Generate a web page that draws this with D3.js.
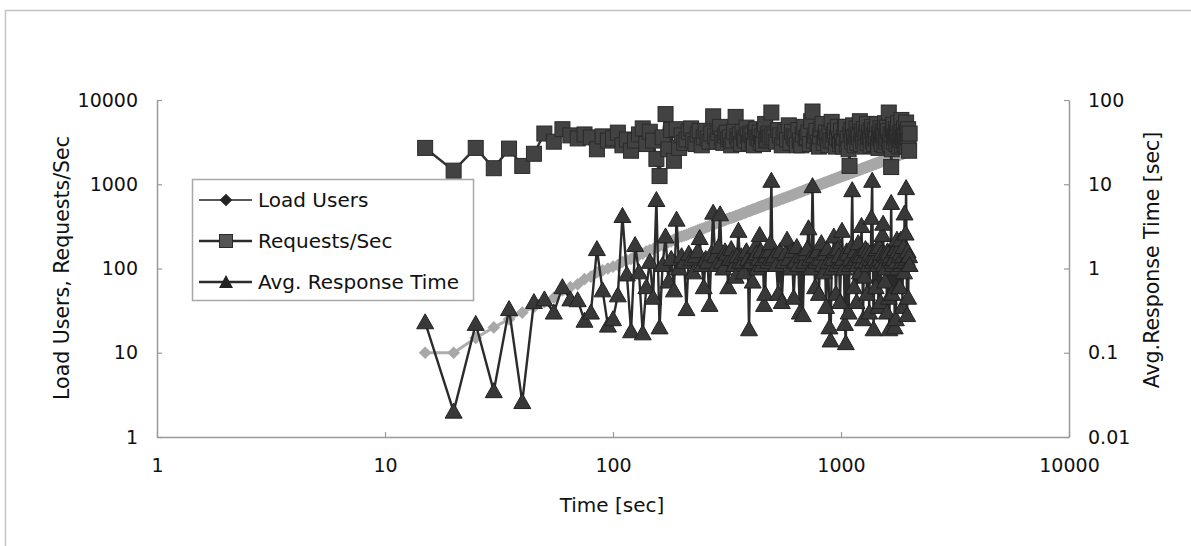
<!DOCTYPE html>
<html><head><meta charset="utf-8">
<script src="https://cdn.jsdelivr.net/npm/d3@7"></script>
<style>
html,body{margin:0;padding:0;background:#fff;}
svg{display:block;font-family:"DejaVu Sans","Liberation Sans",Arial,sans-serif;}
</style></head>
<body>
<svg id="chart" width="1191" height="546"></svg>
<script>
const timeSec = [15,20,25,30,35,40,45,50,55,60,65,70,75,80,85,90,95,100,105,110,115,120,125,130,135,140,145,150,155,160,165,170,175,180,185,190,195,200,
205,210,215,220,225,230,235,240,245,250,255,260,265,270,275,280,285,290,295,300,
305,310,315,320,325,330,335,340,345,350,355,360,365,370,375,380,385,390,395,400,
405,410,415,420,425,430,435,440,445,450,455,460,465,470,475,480,485,490,495,500,
510,520,530,540,550,560,570,580,590,600,610,620,630,640,650,660,670,680,690,700,
710,720,730,740,750,760,770,780,790,800,810,820,830,840,850,860,870,880,890,900,
910,920,930,940,950,960,970,980,990,1000,1010,1020,1030,1040,1050,1060,1070,1080,1090,1100,
1110,1120,1130,1140,1150,1160,1170,1180,1190,1200,1210,1220,1230,1240,1250,1260,1270,1280,1290,1300,
1310,1320,1330,1340,1350,1360,1370,1380,1390,1400,1410,1420,1430,1440,1450,1460,1470,1480,1490,1500,
1510,1520,1530,1540,1550,1560,1570,1580,1590,1600,1610,1620,1630,1640,1650,1660,1670,1680,1690,1700,
1710,1720,1730,1740,1750,1760,1770,1780,1790,1800,1810,1820,1830,1840,1850,1860,1870,1880,1890,1900,
1910,1920,1930,1940,1950,1960,1970,1980,1990,2000];

const loadUsers = [10,10,15,20,25,30,35,40,45,55,60,65,75,80,90,95,100,105,110,120,125,130,140,145,150,160,165,170,180,185,190,200,205,210,220,225,235,240,
245,250,258,265,270,275,283,290,295,300,308,315,320,325,333,340,345,350,358,365,
370,375,383,390,395,400,405,410,418,425,430,435,443,450,455,460,468,475,480,485,
493,500,505,510,518,525,530,535,543,550,555,560,568,575,580,585,593,600,605,610,
620,630,645,655,670,680,695,705,720,730,745,755,770,780,795,805,820,830,845,855,
870,880,895,905,920,930,945,955,970,980,995,1005,1020,1030,1045,1055,1070,1080,1095,1105,
1120,1130,1145,1155,1170,1180,1195,1205,1220,1230,1245,1255,1270,1280,1295,1305,1320,1330,1345,1355,
1370,1380,1395,1405,1420,1430,1445,1455,1470,1480,1495,1505,1520,1530,1545,1555,1570,1580,1595,1605,
1620,1630,1645,1655,1670,1680,1695,1705,1720,1730,1745,1755,1770,1780,1795,1805,1820,1830,1845,1855,
1870,1880,1895,1905,1920,1930,1945,1955,1970,1980,1995,2005,2020,2030,2045,2055,2070,2080,2095,2105,
2120,2130,2145,2155,2170,2180,2195,2205,2220,2230,2245,2255,2270,2280,2295,2305,2320,2330,2345,2355,
2370,2380,2395,2405,2420,2430,2445,2455,2470,2480];

const requestsPerSec = [2700,1450,2700,1550,2650,1650,2300,4000,3200,4500,3800,3500,3900,3600,2600,3700,3300,3500,4100,2900,3400,2500,3300,3900,4600,3000,4200,3300,2000,1250,3600,6800,2600,4400,1900,4500,2700,3800,
3100,3400,4200,4600,3300,3000,3900,4300,2900,3600,4300,3500,3200,4000,6400,3700,3200,4100,4800,3500,
3100,3800,4100,3400,3600,2900,3300,4200,6300,3700,3400,3900,3000,4200,3500,3300,4700,3800,3100,4000,
3800,3300,2900,4200,4500,3600,3500,4100,3100,3700,3000,4400,5200,3300,3400,3900,4000,3600,7100,3800,
3600,3200,4400,3800,2900,3600,4200,3400,5000,3100,4200,3700,3500,2900,4400,3300,2900,3900,4800,3500,
3600,4100,3000,5600,7300,3300,3800,4300,3100,2800,3700,4500,5200,3100,3600,4100,3500,2900,4000,3300,
5500,3300,3900,4300,2800,3600,4800,3400,3000,4300,3200,2800,3600,4600,4800,3000,3500,2600,1650,3900,
4400,3200,5000,3600,2900,3700,4600,3100,3900,3600,5600,3000,4200,3900,3300,4500,2800,3600,4100,5200,
3100,3700,4100,3500,2900,4400,4800,3300,3800,3000,4400,3500,3700,5200,3000,2700,3900,3600,4600,3400,
3000,4300,3800,4100,2900,5300,3700,3200,4700,3500,4300,7100,3200,3000,3900,1600,2600,3900,4500,5100,
3200,3700,3600,4500,3000,4100,3700,5300,3200,2800,4000,3400,3700,5800,2900,4200,3600,3300,4600,3000,
3800,3300,5400,2800,4100,3600,4500,3200,2500,4000];

const avgResponse = [0.23,0.02,0.22,0.035,0.33,0.026,0.40,0.43,0.30,0.60,0.43,0.42,0.24,0.30,1.7,0.55,0.21,0.25,0.48,4.2,0.85,0.18,1.9,0.9,0.17,0.6,1.2,0.45,6.5,0.2,1.1,2.4,0.7,1.3,0.55,3.8,1.0,1.4,
1.2,0.33,1.5,1.3,0.9,1.4,1.6,2.3,1.1,0.6,1.3,1.2,0.37,1.5,4.6,1.4,1.1,1.8,4.4,1.2,
1.0,1.6,1.5,0.6,1.3,1.7,1.3,1.1,0.8,1.4,2.8,1.2,1.4,1.2,0.9,1.5,1.6,1.3,0.19,1.2,
1.2,0.7,1.4,1.8,1.5,1.0,1.3,2.5,1.6,1.1,1.3,0.37,0.5,1.4,1.6,1.2,1.6,2.0,11,1.3,
1.4,1.1,0.5,1.6,0.4,1.2,1.5,2.2,1.3,1.0,1.6,0.45,1.2,1.8,1.1,0.3,1.4,0.28,1.2,1.5,
1.7,3.0,1.3,1.0,9.5,1.4,0.6,1.2,1.6,0.5,1.3,2.0,1.1,0.9,1.5,0.35,1.7,1.2,0.2,0.14,
1.0,1.3,2.4,1.6,0.5,1.1,1.7,1.4,0.4,1.2,2.8,1.3,1.0,0.22,0.13,1.6,1.5,0.3,1.1,1.3,
1.8,8.5,1.2,0.6,1.6,1.3,0.4,1.1,2.0,1.4,0.9,1.4,3.2,1.2,0.25,1.4,0.8,1.7,1.2,0.5,
1.6,1.1,0.3,1.5,1.3,4.0,11,1.2,0.19,1.4,1.3,0.6,1.7,1.2,1.1,0.35,1.8,1.3,0.4,1.5,
1.2,2.5,3.4,1.1,1.5,0.7,1.0,1.4,0.3,1.6,1.5,0.45,0.19,1.3,1.4,6.0,1.2,0.5,1.1,1.6,
1.3,0.2,1.7,0.25,1.2,2.2,1.6,1.0,0.6,1.4,0.6,1.5,2.2,1.1,1.2,0.35,1.4,1.8,0.9,4.5,
1.2,2.6,9.0,1.3,0.28,1.6,0.45,1.1,1.4,1.1];

const xTicks = [1,10,100,1000,10000];
const yLeftTicks = [1,10,100,1000,10000];
const yRightTicks = [0.01,0.1,1,10,100];
const seriesNames = ["Load Users","Requests/Sec","Avg. Response Time"];

const svg = d3.select("#chart");

// outer frame
svg.append("path").attr("d","M5.5,546 V10.5 H1191").attr("fill","none").attr("stroke","#c4c4c4").attr("stroke-width",1.5);

const x = d3.scaleLog().domain([1,10000]).range([157,1069]);
const yL = d3.scaleLog().domain([1,10000]).range([437,100]);
const yR = d3.scaleLog().domain([0.01,100]).range([437,100]);

const axisColor = "#9a9a9a";
function styleAxis(g){
  g.selectAll(".domain").attr("stroke",axisColor).attr("stroke-width",1.5);
  g.selectAll(".tick line").attr("stroke",axisColor).attr("stroke-width",1.2);
  g.selectAll(".tick text").attr("fill","#111").style("font-size","19px").style("font-family","'DejaVu Sans','Liberation Sans',Arial,sans-serif");
}

const gx = svg.append("g").attr("transform","translate(0,437)")
  .call(d3.axisBottom(x).tickValues(xTicks).tickFormat(d=>String(d)).tickSizeInner(-5).tickSizeOuter(0).tickPadding(22));
styleAxis(gx);
const gl = svg.append("g").attr("transform","translate(157,0)")
  .call(d3.axisLeft(yL).tickValues(yLeftTicks).tickFormat(d=>String(d)).tickSizeInner(-5).tickSizeOuter(0).tickPadding(19));
styleAxis(gl);
const gr = svg.append("g").attr("transform","translate(1069,0)")
  .call(d3.axisRight(yR).tickValues(yRightTicks).tickFormat(d=>String(d)).tickSizeInner(-5).tickSizeOuter(0).tickPadding(19));
styleAxis(gr);

// axis titles
svg.append("text").attr("x",612).attr("y",512).attr("text-anchor","middle")
  .style("font-size","20px").attr("fill","#111").text("Time [sec]");
svg.append("text").attr("transform","translate(69,268) rotate(-90)").attr("text-anchor","middle")
  .style("font-size","20.5px").attr("fill","#111").text("Load Users, Requests/Sec");
svg.append("text").attr("transform","translate(1159,260) rotate(-90)").attr("text-anchor","middle")
  .style("font-size","20.5px").attr("fill","#111").text("Avg.Response Time [sec]");

const idx = d3.range(timeSec.length);

// Load Users (gray)
const lineUsers = d3.line().x(i=>x(timeSec[i])).y(i=>yL(loadUsers[i]));
svg.append("path").attr("d",lineUsers(idx)).attr("fill","none").attr("stroke","#adadad").attr("stroke-width",3);
svg.append("g").selectAll("rect").data(idx).join("rect")
  .attr("x",-4.5).attr("y",-4.5).attr("width",9).attr("height",9)
  .attr("transform",i=>`translate(${x(timeSec[i])},${yL(loadUsers[i])}) rotate(45)`)
  .attr("fill","#a8a8a8");

// Requests/Sec
const lineReq = d3.line().x(i=>x(timeSec[i])).y(i=>yL(requestsPerSec[i]));
svg.append("path").attr("d",lineReq(idx)).attr("fill","none").attr("stroke","#333").attr("stroke-width",2.5);
svg.append("g").selectAll("rect").data(idx).join("rect")
  .attr("x",i=>x(timeSec[i])-7.5).attr("y",i=>yL(requestsPerSec[i])-7.5)
  .attr("width",15).attr("height",15)
  .attr("fill","#424242").attr("stroke","#2a2a2a").attr("stroke-width",1);

// Avg Response Time
const lineResp = d3.line().x(i=>x(timeSec[i])).y(i=>yR(avgResponse[i]));
svg.append("path").attr("d",lineResp(idx)).attr("fill","none").attr("stroke","#2b2b2b").attr("stroke-width",2.4);
const tri = "M0,-8.5 L8.5,6.5 L-8.5,6.5 Z";
svg.append("g").selectAll("path").data(idx).join("path")
  .attr("d",tri)
  .attr("transform",i=>`translate(${x(timeSec[i])},${yR(avgResponse[i])})`)
  .attr("fill","#383838").attr("stroke","#222").attr("stroke-width",1);

// Legend
const lg = svg.append("g");
lg.append("rect").attr("x",192.5).attr("y",179.5).attr("width",281).attr("height",121)
  .attr("fill","#fff").attr("stroke","#a8a8a8").attr("stroke-width",1.5);
const legY = [200,241,282];
const triL = "M0,-7 L7,6 L-7,6 Z";
seriesNames.forEach((name,k)=>{
  const yy = legY[k];
  lg.append("line").attr("x1",199).attr("x2",252).attr("y1",yy).attr("y2",yy)
    .attr("stroke",k===0?"#222":"#2b2b2b").attr("stroke-width",k===0?1.5:2.5);
  if(k===0){
    lg.append("rect").attr("x",-4.5).attr("y",-4.5).attr("width",9).attr("height",9)
      .attr("transform",`translate(226,${yy}) rotate(45)`).attr("fill","#222");
  } else if(k===1){
    lg.append("rect").attr("x",219.5).attr("y",yy-6.5).attr("width",13).attr("height",13)
      .attr("fill","#555").attr("stroke","#2a2a2a");
  } else {
    lg.append("path").attr("d",triL).attr("transform",`translate(226,${yy})`).attr("fill","#222");
  }
  lg.append("text").attr("x",258).attr("y",yy+7).style("font-size","20px").attr("fill","#111").text(name);
});
</script>
</body></html>
